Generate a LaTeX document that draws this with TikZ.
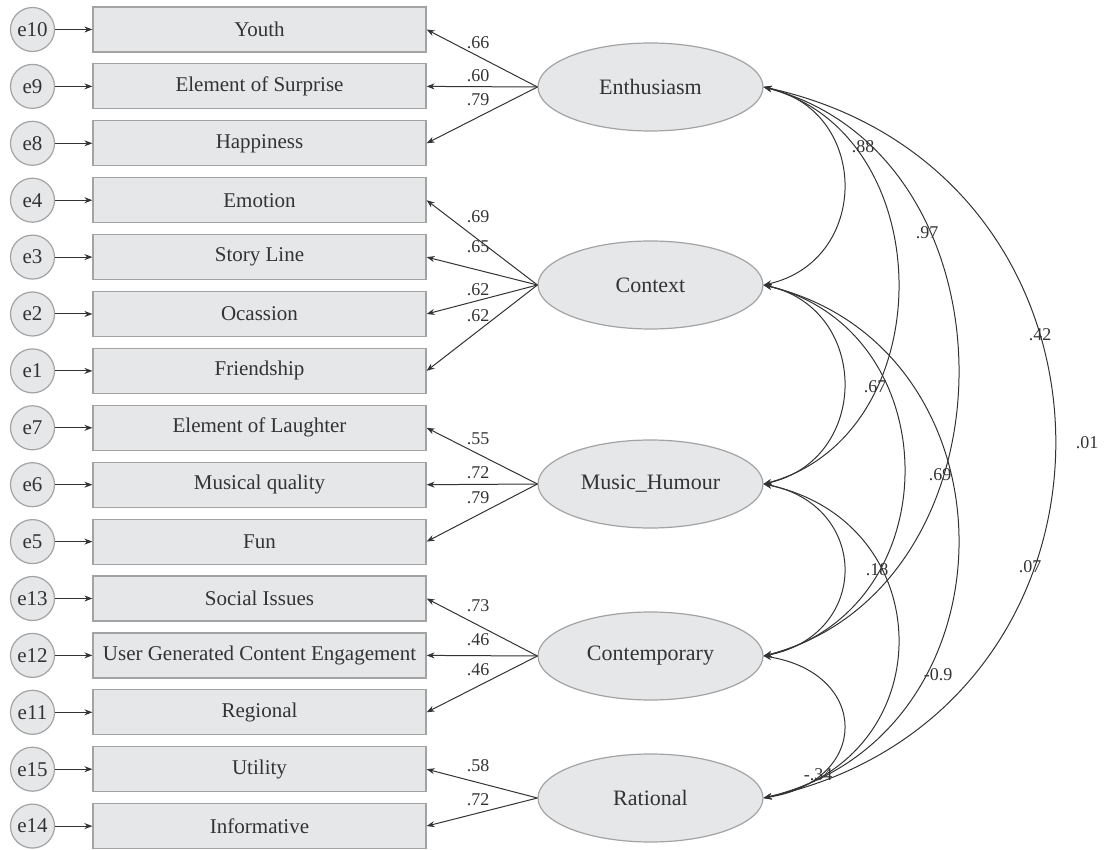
\documentclass[tikz,border=0pt]{standalone}
\usepackage{fontspec}
\setmainfont{Liberation Serif}
\usetikzlibrary{arrows.meta, shapes.geometric}

\definecolor{boxfill}{HTML}{E6E7E9}
\definecolor{boxline}{HTML}{A3A3A3}
\definecolor{ink}{HTML}{333333}

\begin{document}
\begin{tikzpicture}[x=1pt, y=-1pt,
  indicator/.style={rectangle, draw=boxline, fill=boxfill, line width=1.2pt, minimum width=333pt, minimum height=45pt, inner sep=0pt, font=\fontsize{21}{25}\selectfont, text=ink},
  errterm/.style={circle, draw=boxline, fill=boxfill, line width=1.2pt, minimum size=44pt, inner sep=0pt, font=\fontsize{21}{25}\selectfont, text=ink},
  latent/.style={ellipse, draw=boxline, fill=boxfill, line width=1.2pt, minimum width=225pt, minimum height=88pt, inner sep=0pt, font=\fontsize{22}{26}\selectfont, text=ink},
  loadarrow/.style={draw=ink, line width=1pt, -{Stealth[length=8pt, width=6pt]}},
  covarc/.style={draw=ink, line width=1pt, {Stealth[length=8pt, width=6pt]}-{Stealth[length=8pt, width=6pt]}},
  coef/.style={font=\fontsize{18}{20}\selectfont, text=ink, inner sep=0pt}]
\useasboundingbox (0,0) rectangle (1104,850);

% Error terms
\node[errterm] (e10) at (32.5,29.5) {e10};
\node[errterm] (e9) at (32.5,86.4) {e9};
\node[errterm] (e8) at (32.5,143.3) {e8};
\node[errterm] (e4) at (32.5,200.2) {e4};
\node[errterm] (e3) at (32.5,257.1) {e3};
\node[errterm] (e2) at (32.5,314.0) {e2};
\node[errterm] (e1) at (32.5,370.9) {e1};
\node[errterm] (e7) at (32.5,427.8) {e7};
\node[errterm] (e6) at (32.5,484.7) {e6};
\node[errterm] (e5) at (32.5,541.6) {e5};
\node[errterm] (e13) at (32.5,598.5) {e13};
\node[errterm] (e12) at (32.5,655.4) {e12};
\node[errterm] (e11) at (32.5,712.3) {e11};
\node[errterm] (e15) at (32.5,769.2) {e15};
\node[errterm] (e14) at (32.5,826.1) {e14};

% Observed items
\node[indicator] (youth) at (259.5,29.5) {Youth};
\node[indicator] (surprise) at (259.5,86.4) {Element of Surprise};
\node[indicator] (happiness) at (259.5,143.3) {Happiness};
\node[indicator] (emotion) at (259.5,200.2) {Emotion};
\node[indicator] (story) at (259.5,257.1) {Story Line};
\node[indicator] (occasion) at (259.5,314.0) {Ocassion};
\node[indicator] (friendship) at (259.5,370.9) {Friendship};
\node[indicator] (laughter) at (259.5,427.8) {Element of Laughter};
\node[indicator] (musical) at (259.5,484.7) {Musical quality};
\node[indicator] (fun) at (259.5,541.6) {Fun};
\node[indicator] (social) at (259.5,598.5) {Social Issues};
\node[indicator] (ugc) at (259.5,655.4) {User Generated Content Engagement};
\node[indicator] (regional) at (259.5,712.3) {Regional};
\node[indicator] (utility) at (259.5,769.2) {Utility};
\node[indicator] (informative) at (259.5,826.1) {Informative};

\draw[loadarrow] (e10) -- (youth);
\draw[loadarrow] (e9) -- (surprise);
\draw[loadarrow] (e8) -- (happiness);
\draw[loadarrow] (e4) -- (emotion);
\draw[loadarrow] (e3) -- (story);
\draw[loadarrow] (e2) -- (occasion);
\draw[loadarrow] (e1) -- (friendship);
\draw[loadarrow] (e7) -- (laughter);
\draw[loadarrow] (e6) -- (musical);
\draw[loadarrow] (e5) -- (fun);
\draw[loadarrow] (e13) -- (social);
\draw[loadarrow] (e12) -- (ugc);
\draw[loadarrow] (e11) -- (regional);
\draw[loadarrow] (e15) -- (utility);
\draw[loadarrow] (e14) -- (informative);

% Factors
\node[latent] (enth) at (650.5,87) {Enthusiasm};
\node[latent] (context) at (650.5,285) {Context};
\node[latent] (music) at (650.5,484) {Music\_Humour};
\node[latent] (contemp) at (650.5,656) {Contemporary};
\node[latent] (rational) at (650.5,798) {Rational};

% Loadings
\draw[loadarrow] (enth.west) -- (youth.east);
\draw[loadarrow] (enth.west) -- (surprise.east);
\draw[loadarrow] (enth.west) -- (happiness.east);
\draw[loadarrow] (context.west) -- (emotion.east);
\draw[loadarrow] (context.west) -- (story.east);
\draw[loadarrow] (context.west) -- (occasion.east);
\draw[loadarrow] (context.west) -- (friendship.east);
\draw[loadarrow] (music.west) -- (laughter.east);
\draw[loadarrow] (music.west) -- (musical.east);
\draw[loadarrow] (music.west) -- (fun.east);
\draw[loadarrow] (contemp.west) -- (social.east);
\draw[loadarrow] (contemp.west) -- (ugc.east);
\draw[loadarrow] (contemp.west) -- (regional.east);
\draw[loadarrow] (rational.west) -- (utility.east);
\draw[loadarrow] (rational.west) -- (informative.east);

\node[coef] at (478,43) {.66};
\node[coef] at (478,76) {.60};
\node[coef] at (478,100) {.79};
\node[coef] at (478,217) {.69};
\node[coef] at (478,247) {.65};
\node[coef] at (478,290) {.62};
\node[coef] at (478,316) {.62};
\node[coef] at (478,439) {.55};
\node[coef] at (478,473) {.72};
\node[coef] at (478,498) {.79};
\node[coef] at (478,606) {.73};
\node[coef] at (478,640) {.46};
\node[coef] at (478,670) {.46};
\node[coef] at (478,766) {.58};
\node[coef] at (478,800) {.72};

% Covariances
\draw[covarc] (enth.east) .. controls +(107,24) and +(107,-24) .. (context.east);
\draw[covarc] (enth.east) .. controls +(179,48) and +(179,-48) .. (music.east);
\draw[covarc] (enth.east) .. controls +(259,68) and +(259,-68) .. (contemp.east);
\draw[covarc] (enth.east) .. controls +(388,85) and +(388,-85) .. (rational.east);
\draw[covarc] (context.east) .. controls +(107,24) and +(107,-24) .. (music.east);
\draw[covarc] (context.east) .. controls +(187,45) and +(187,-45) .. (contemp.east);
\draw[covarc] (context.east) .. controls +(259,62) and +(259,-62) .. (rational.east);
\draw[covarc] (music.east) .. controls +(107,21) and +(107,-21) .. (contemp.east);
\draw[covarc] (music.east) .. controls +(179,38) and +(179,-38) .. (rational.east);
\draw[covarc] (contemp.east) .. controls +(107,17) and +(107,-17) .. (rational.east);

\node[coef] at (863,147) {.88};
\node[coef] at (927,233) {.97};
\node[coef] at (1040,335) {.42};
\node[coef] at (1087,443) {.01};
\node[coef] at (875,387) {.67};
\node[coef] at (940,475) {.69};
\node[coef] at (877,570) {.18};
\node[coef] at (1030,567) {.07};
\node[coef] at (938,675) {-0.9};
\node[coef] at (818,775) {-.34};
\end{tikzpicture}
\end{document}
